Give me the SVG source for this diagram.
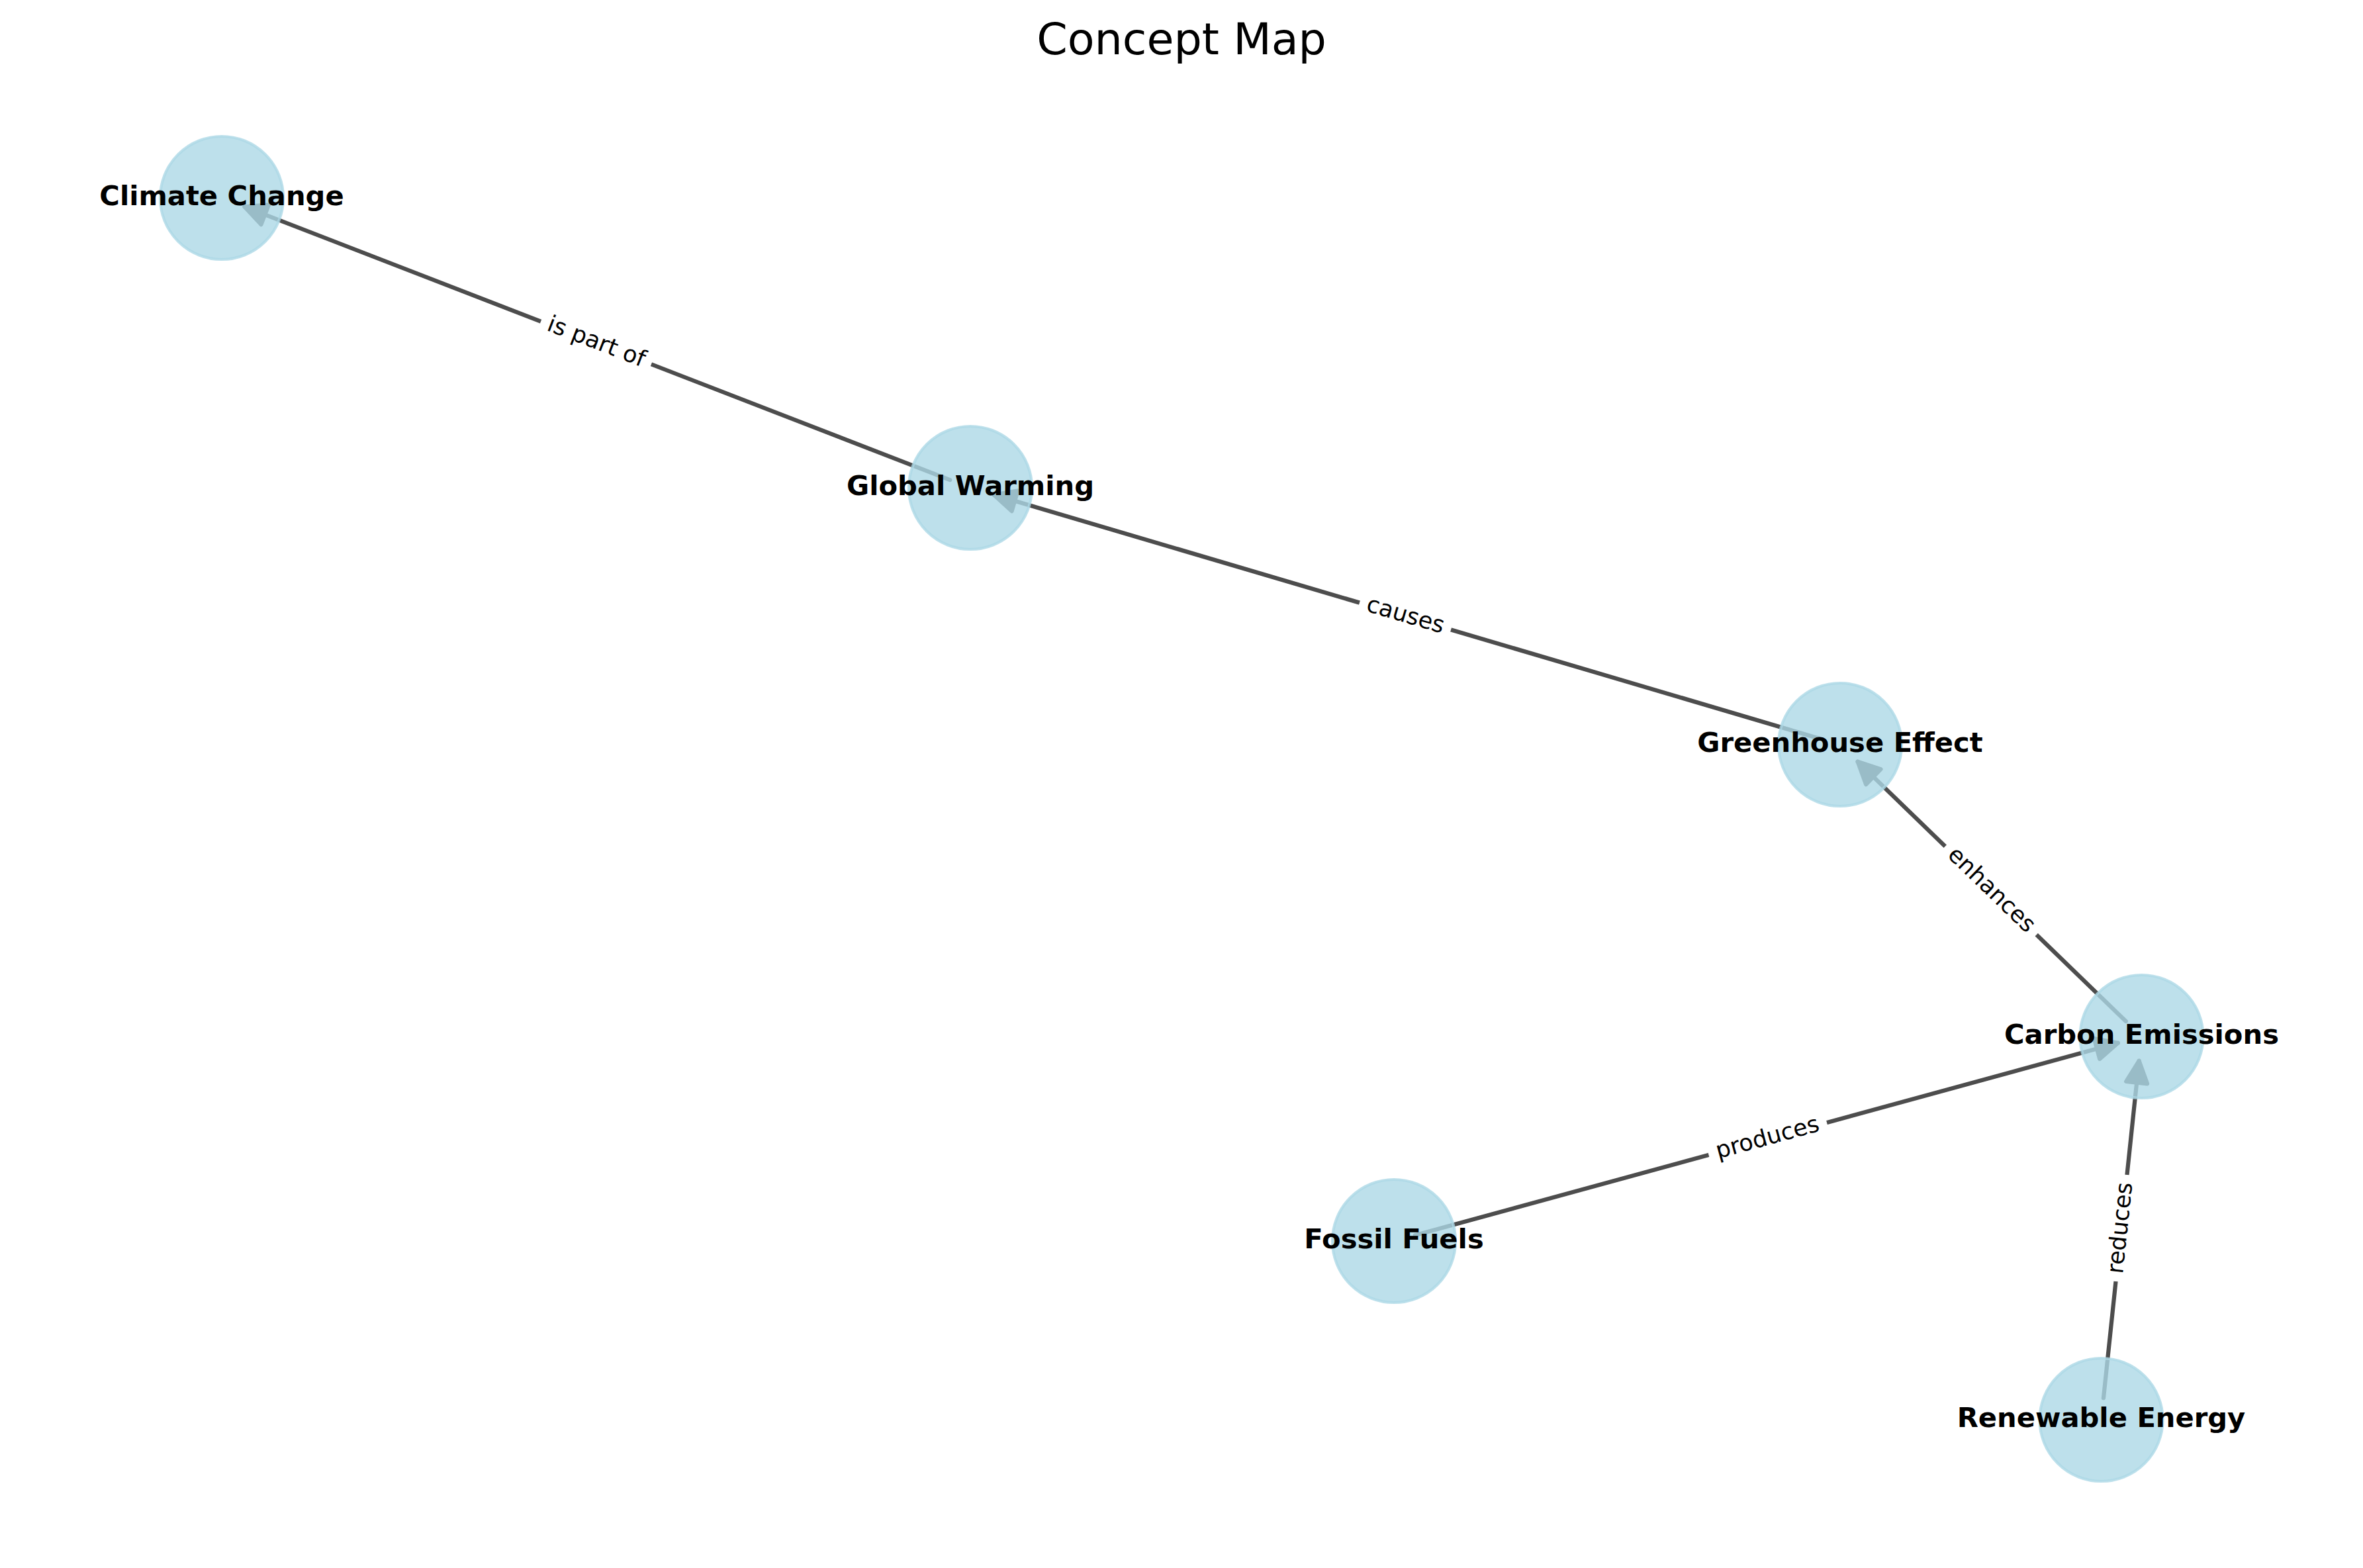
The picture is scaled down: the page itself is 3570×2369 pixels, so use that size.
<svg xmlns="http://www.w3.org/2000/svg" width="3570" height="2369" viewBox="0 0 3570 2369">
<style>
.title{font-family:"DejaVu Sans",Verdana,sans-serif;font-size:66.7px;fill:#000;text-anchor:middle}
.node circle{fill:#add8e6;fill-opacity:0.8;stroke:#add8e6;stroke-opacity:0.8;stroke-width:4.2}
.node text{font-family:"DejaVu Sans",Verdana,sans-serif;font-size:41.67px;font-weight:bold;fill:#000;text-anchor:middle}
.edge{stroke:#4d4d4d;stroke-width:6.25;stroke-linecap:round;fill:none;marker-end:url(#arrow)}
.elabel rect{fill:#fff;stroke:#fff}
.elabel text{font-family:"DejaVu Sans",Verdana,sans-serif;font-size:35px;fill:#000;text-anchor:middle}
</style>
<defs>
<marker id="arrow" markerUnits="userSpaceOnUse" markerWidth="10" markerHeight="10" refX="0" refY="0" orient="auto" overflow="visible">
<path d="M0,0 L-33,-16 L-33,16 Z" fill="#4d4d4d" stroke="#4d4d4d" stroke-width="6.25" stroke-linejoin="round"/>
</marker>
</defs>
<rect x="0" y="0" width="3570" height="2369" fill="#fff"/>
<text class="title" x="1785" y="82">Concept Map</text>
<g id="connectors">
<line class="edge" x1="1435.23" y1="725.08" x2="369.50" y2="312.36"/>
<line class="edge" x1="2748.35" y1="1115.65" x2="1501.49" y2="747.48"/>
<line class="edge" x1="3211.79" y1="1543.05" x2="2806.58" y2="1150.74"/>
<line class="edge" x1="2137.83" y1="1866.29" x2="3199.81" y2="1575.76"/>
<line class="edge" x1="3177.96" y1="2112.18" x2="3231.62" y2="1602.80"/>
<g class="elabel" transform="translate(900.5,518) rotate(21.17)">
<rect x="-89" y="-32" width="178" height="64" rx="10"/>
<text x="0" y="9.2">is part of</text>
</g>
<g class="elabel" transform="translate(2123,931) rotate(16.45)">
<rect x="-71.5" y="-32" width="143" height="64" rx="10"/>
<text x="0" y="9.2">causes</text>
</g>
<g class="elabel" transform="translate(3007.75,1345.5) rotate(44.07)">
<rect x="-95.5" y="-32" width="191" height="64" rx="10"/>
<text x="0" y="9.2">enhances</text>
</g>
<g class="elabel" transform="translate(2670.75,1720.5) rotate(-15.3)">
<rect x="-92" y="-32" width="184" height="64" rx="10"/>
<text x="0" y="9.2">produces</text>
</g>
<g class="elabel" transform="translate(3205,1855.5) rotate(-83.99)">
<rect x="-80.5" y="-32" width="161" height="64" rx="10"/>
<text x="0" y="9.2">reduces</text>
</g>
</g>
<g id="node-climate-change" class="node"><circle cx="335" cy="299" r="93"/><text x="335" y="310">Climate Change</text></g>
<g id="node-global-warming" class="node"><circle cx="1466" cy="737" r="93"/><text x="1466" y="748">Global Warming</text></g>
<g id="node-greenhouse-effect" class="node"><circle cx="2780" cy="1125" r="93"/><text x="2780" y="1136">Greenhouse Effect</text></g>
<g id="node-carbon-emissions" class="node"><circle cx="3235.5" cy="1566" r="93"/><text x="3235.5" y="1577">Carbon Emissions</text></g>
<g id="node-fossil-fuels" class="node"><circle cx="2106" cy="1875" r="93"/><text x="2106" y="1886">Fossil Fuels</text></g>
<g id="node-renewable-energy" class="node"><circle cx="3174.5" cy="2145" r="93"/><text x="3174.5" y="2156">Renewable Energy</text></g>
</svg>
